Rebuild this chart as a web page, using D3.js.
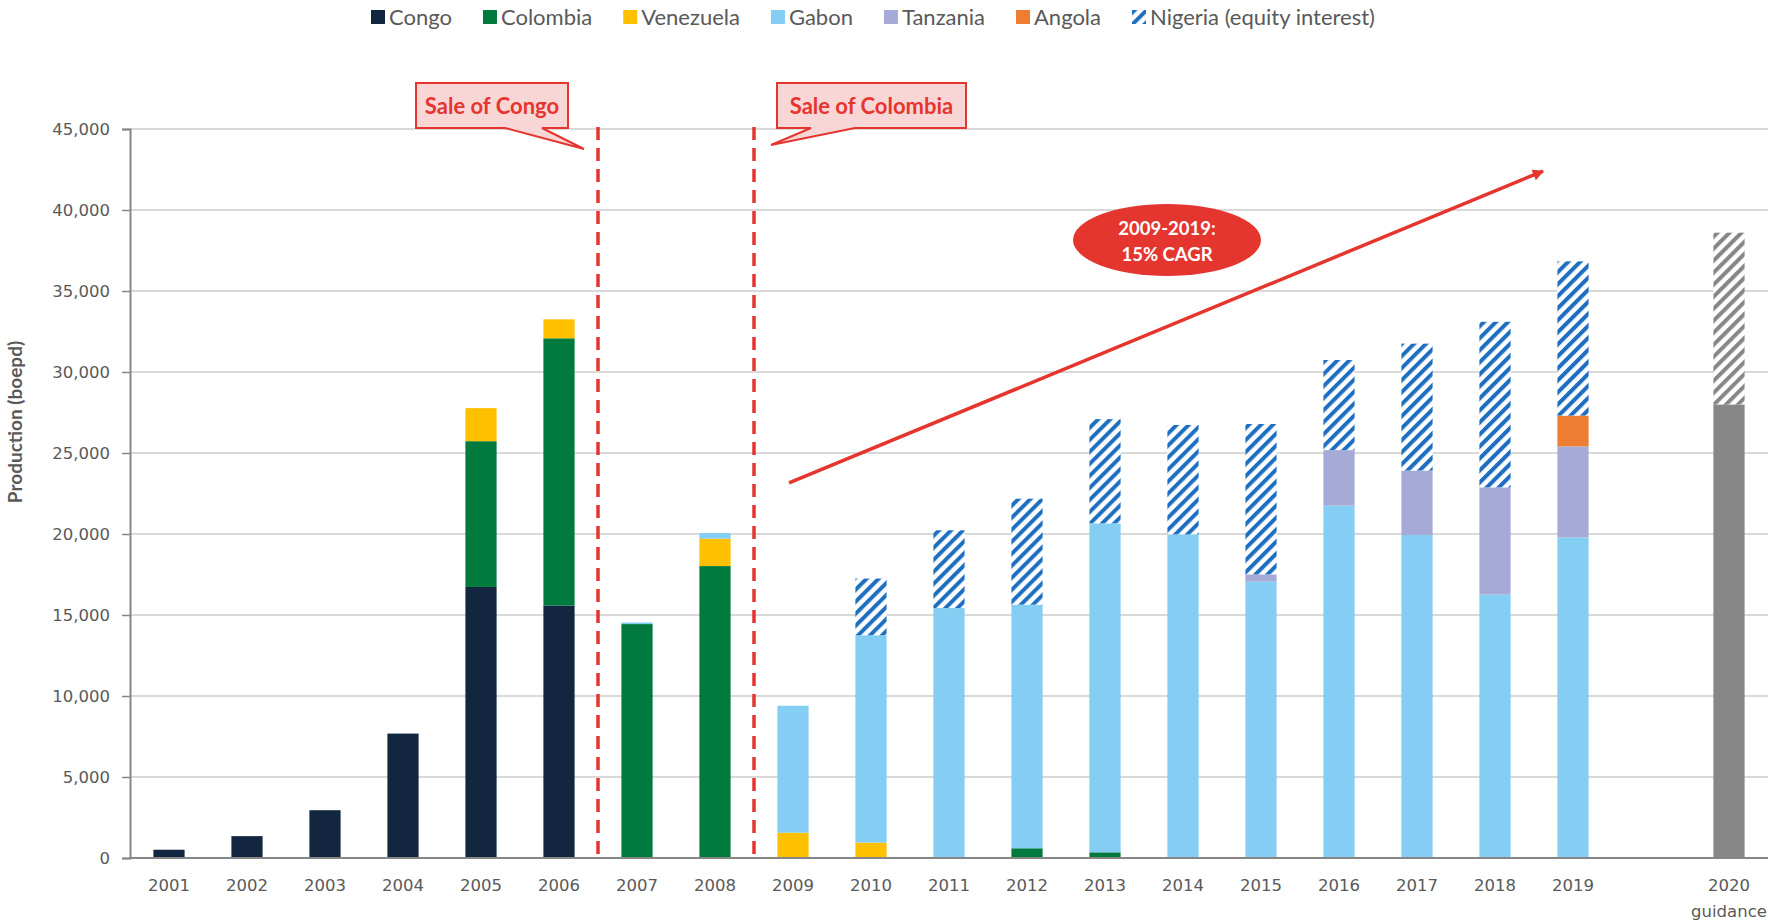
<!DOCTYPE html>
<html>
<head>
<meta charset="utf-8">
<script src="https://cdn.jsdelivr.net/npm/d3@7"></script>
<style>
  body { margin: 0; background: #fff; }
  svg { display: block; }
</style>
</head>
<body>
<script>
// categories (one empty slot before the 2020 guidance bar)
var categories = ["2001", "2002", "2003", "2004", "2005", "2006", "2007", "2008", "2009", "2010",
                  "2011", "2012", "2013", "2014", "2015", "2016", "2017", "2018", "2019", "gap", "2020"];
var yTicks = [0, 5000, 10000, 15000, 20000, 25000, 30000, 35000, 40000, 45000];

// production by country, boepd
var congo     = [510, 1350, 2950, 7680, 16730, 15580, 0, 0, 0, 0, 0, 0, 0, 0, 0, 0, 0, 0, 0, 0, 0];
var colombia  = [0, 0, 0, 0, 9000, 16500, 14440, 18020, 0, 0, 0, 600, 350, 0, 0, 0, 0, 0, 0, 0, 0];
var venezuela = [0, 0, 0, 0, 2040, 1170, 0, 1690, 1560, 950, 0, 0, 0, 0, 0, 0, 0, 0, 0, 0, 0];
var gabon     = [0, 0, 0, 0, 0, 0, 100, 350, 7840, 12800, 15430, 15040, 20310, 19980, 17060, 21750, 19940, 16260, 19790, 0, 0];
var tanzania  = [0, 0, 0, 0, 0, 0, 0, 0, 0, 0, 0, 0, 0, 0, 450, 3430, 3980, 6620, 5620, 0, 0];
var angola    = [0, 0, 0, 0, 0, 0, 0, 0, 0, 0, 0, 0, 0, 0, 0, 0, 0, 0, 1900, 0, 0];
var nigeria   = [0, 0, 0, 0, 0, 0, 0, 0, 0, 3500, 4800, 6540, 6430, 6750, 9280, 5560, 7830, 10220, 9520, 0, 0];
var guidance   = [0, 0, 0, 0, 0, 0, 0, 0, 0, 0, 0, 0, 0, 0, 0, 0, 0, 0, 0, 0, 28000];
var guidanceEq = [0, 0, 0, 0, 0, 0, 0, 0, 0, 0, 0, 0, 0, 0, 0, 0, 0, 0, 0, 0, 10600];

var keys = ["congo", "colombia", "venezuela", "gabon", "tanzania", "angola", "nigeria", "guidance", "guidanceEq"];
var seriesData = {congo: congo, colombia: colombia, venezuela: venezuela, gabon: gabon, tanzania: tanzania,
                  angola: angola, nigeria: nigeria, guidance: guidance, guidanceEq: guidanceEq};
var fills = {congo: "#12263f", colombia: "#007a3d", venezuela: "#ffc000", gabon: "#83cef2",
             tanzania: "#a6aad6", angola: "#ed7d31", nigeria: "url(#hatchBlue)",
             guidance: "#878787", guidanceEq: "url(#hatchGrey)"};
var legendItems = [["congo", "Congo"], ["colombia", "Colombia"], ["venezuela", "Venezuela"], ["gabon", "Gabon"],
                   ["tanzania", "Tanzania"], ["angola", "Angola"], ["nigeria", "Nigeria (equity interest)"]];

var table = categories.map(function (c, i) {
  var row = {cat: c};
  keys.forEach(function (k) { row[k] = seriesData[k][i]; });
  return row;
});

var W = 1768, H = 923;
var plotLeft = 130, plotRight = 1768, plotTop = 129, plotBottom = 858;
var textCol = "#595959", red = "#e5352f";

var svg = d3.select("body").append("svg").attr("width", W).attr("height", H);

var defs = svg.append("defs");
function hatch(id, col) {
  var p = defs.append("pattern").attr("id", id).attr("patternUnits", "userSpaceOnUse")
    .attr("width", 8.5).attr("height", 8.5).attr("patternTransform", "rotate(45)");
  p.append("rect").attr("width", 8.5).attr("height", 8.5).attr("fill", "#fff");
  p.append("rect").attr("width", 4).attr("height", 8.5).attr("fill", col);
}
hatch("hatchBlue", "#1f6fc1");
hatch("hatchGrey", "#878787");
defs.append("marker").attr("id", "arrowHead").attr("viewBox", "0 0 10 10")
  .attr("refX", 9).attr("refY", 5).attr("markerWidth", 5).attr("markerHeight", 3.2)
  .attr("orient", "auto").attr("markerUnits", "strokeWidth")
  .append("path").attr("d", "M0,0 L10,5 L0,10 Z").attr("fill", red);

var x = d3.scaleBand().domain(categories).range([plotLeft, plotRight]).paddingInner(0.6).paddingOuter(0.3);
var y = d3.scaleLinear().domain([0, 45000]).range([plotBottom, plotTop]);

// gridlines
svg.append("g").selectAll("line").data(yTicks.slice(1)).enter().append("line")
  .attr("x1", plotLeft).attr("x2", plotRight)
  .attr("y1", function (d) { return y(d); }).attr("y2", function (d) { return y(d); })
  .attr("stroke", "#d9d9d9").attr("stroke-width", 2);

// y axis
var yAxis = svg.append("g").attr("transform", "translate(" + plotLeft + ",0)")
  .call(d3.axisLeft(y).tickValues(yTicks).tickSize(8).tickPadding(12).tickFormat(d3.format(",")));
yAxis.select(".domain").attr("stroke", "#868686").attr("stroke-width", 2);
yAxis.selectAll(".tick line").attr("stroke", "#868686").attr("stroke-width", 1.5);
yAxis.selectAll("text").attr("fill", textCol).attr("font-family", "DejaVu Sans").attr("font-size", 16.5);

svg.append("text").attr("transform", "translate(22,422) rotate(-90)")
  .attr("text-anchor", "middle").attr("font-family", "Lato").attr("font-weight", "bold")
  .attr("font-size", 19).attr("fill", textCol).text("Production (boepd)");

// stacked bars
var stacked = d3.stack().keys(keys)(table);
svg.append("g").selectAll("g").data(stacked).enter().append("g")
  .attr("fill", function (s) { return fills[s.key]; })
  .selectAll("rect").data(function (s) { return s.filter(function (d) { return d[1] - d[0] > 0; }); })
  .enter().append("rect")
  .attr("x", function (d) { return x(d.data.cat); })
  .attr("width", x.bandwidth())
  .attr("y", function (d) { return y(d[1]); })
  .attr("height", function (d) { return y(d[0]) - y(d[1]); });

// x axis
svg.append("line").attr("x1", plotLeft).attr("x2", plotRight).attr("y1", plotBottom).attr("y2", plotBottom)
  .attr("stroke", "#868686").attr("stroke-width", 2);
svg.append("g").selectAll("text").data(categories.filter(function (c) { return c !== "gap"; }))
  .enter().append("text")
  .attr("x", function (d) { return x(d) + x.bandwidth() / 2; })
  .attr("y", 891).attr("text-anchor", "middle").attr("fill", textCol)
  .attr("font-family", "DejaVu Sans").attr("font-size", 16.5)
  .text(function (d) { return d; });
svg.append("text").attr("x", x("2020") + x.bandwidth() / 2).attr("y", 917).attr("text-anchor", "middle")
  .attr("fill", textCol).attr("font-family", "DejaVu Sans").attr("font-size", 16.5).text("guidance");

// sale markers
function midBetween(a, b) { return (x(a) + x.bandwidth() + x(b)) / 2; }
var cut1 = midBetween("2006", "2007"), cut2 = midBetween("2008", "2009");
[cut1, cut2].forEach(function (cx) {
  svg.append("line").attr("x1", cx).attr("x2", cx).attr("y1", 127).attr("y2", 862)
    .attr("stroke", red).attr("stroke-width", 3.5).attr("stroke-dasharray", "13 8");
});

function callout(x0, x1, b0, b1, tipX, tipY, label) {
  var t = 83, b = 128;
  var pts = [[x0, t], [x1, t], [x1, b], [b1, b], [tipX, tipY], [b0, b], [x0, b]];
  svg.append("polygon").attr("points", pts.map(function (p) { return p.join(","); }).join(" "))
    .attr("fill", "#f9d6d6").attr("stroke", red).attr("stroke-width", 2);
  svg.append("text").attr("x", (x0 + x1) / 2).attr("y", 114).attr("text-anchor", "middle")
    .attr("font-family", "Lato").attr("font-weight", "bold").attr("font-size", 22)
    .attr("fill", red).text(label);
}
callout(416, 568, 505, 542, cut1 - 14, 149, "Sale of Congo");
callout(777, 966, 811, 855, cut2 + 17, 145, "Sale of Colombia");

// CAGR arrow
svg.append("line")
  .attr("x1", x("2009") + x.bandwidth() / 2 - 4).attr("y1", y(23150))
  .attr("x2", x("2019") + x.bandwidth() / 2 - 30).attr("y2", y(42400))
  .attr("stroke", red).attr("stroke-width", 3.5).attr("marker-end", "url(#arrowHead)");

svg.append("ellipse").attr("cx", 1167).attr("cy", 240).attr("rx", 94).attr("ry", 36).attr("fill", red);
svg.append("text").attr("x", 1167).attr("y", 235).attr("text-anchor", "middle").attr("fill", "#fff")
  .attr("font-family", "Lato").attr("font-weight", "bold").attr("font-size", 18.5).text("2009-2019:");
svg.append("text").attr("x", 1167).attr("y", 261).attr("text-anchor", "middle").attr("fill", "#fff")
  .attr("font-family", "Lato").attr("font-weight", "bold").attr("font-size", 18.5).text("15% CAGR");

// legend
var lx = 371;
legendItems.forEach(function (it) {
  svg.append("rect").attr("x", lx).attr("y", 10).attr("width", 14).attr("height", 14)
    .attr("fill", fills[it[0]]);
  var t = svg.append("text").attr("x", lx + 18).attr("y", 25).attr("fill", textCol)
    .attr("font-family", "Lato").attr("font-size", 22).text(it[1]);
  lx += 18 + t.node().getComputedTextLength() + 31;
});
</script>
</body>
</html>
